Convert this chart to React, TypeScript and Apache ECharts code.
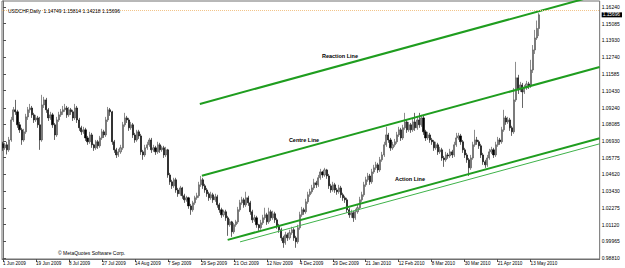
import React, { useEffect, useRef } from "react";
import * as echarts from "echarts";

const titleText = "USDCHF,Daily  1.14749 1.15814 1.14218 1.15696";
const copyrightText = "© MetaQuotes Software Corp.";

// x-axis tick labels, one every 16 daily bars
const tickLabels = [
  "1 Jun 2009", "19 Jun 2009", "8 Jul 2009", "27 Jul 2009", "14 Aug 2009",
  "7 Sep 2009", "29 Sep 2009", "21 Oct 2009", "12 Nov 2009", "4 Dec 2009",
  "29 Dec 2009", "21 Jan 2010", "12 Feb 2010", "8 Mar 2010", "30 Mar 2010",
  "21 Apr 2010", "13 May 2010",
];
const barsPerLabel = 16;
const slotCount = 290;

// price-axis labels
const priceTicks = [
  0.9881, 0.99965, 1.0112, 1.02275, 1.0343, 1.0462, 1.05775, 1.0693,
  1.08085, 1.0924, 1.1043, 1.11585, 1.1274, 1.1393, 1.15085, 1.1624,
];
const lastPrice = 1.15696;

// daily bars: [open, close, low, high]
const ohlc = [
  [1.0674,1.0646,1.0625,1.0688],[1.0646,1.0667,1.0632,1.0681],[1.0667,1.0632,1.0600,1.0688],[1.0632,1.0701,1.0618,1.0722],
  [1.0701,1.0840,1.0688,1.0861],[1.0840,1.0910,1.0826,1.0930],[1.0910,1.0896,1.0875,1.0979],[1.0896,1.0806,1.0785,1.0910],
  [1.0806,1.0771,1.0750,1.0826],[1.0771,1.0701,1.0667,1.0785],[1.0701,1.0757,1.0688,1.0778],[1.0757,1.0861,1.0743,1.0882],
  [1.0861,1.0910,1.0840,1.0930],[1.0910,1.0923,1.0889,1.0951],[1.0923,1.0875,1.0854,1.0937],[1.0875,1.0840,1.0819,1.0889],
  [1.0840,1.0854,1.0826,1.0875],[1.0854,1.0806,1.0785,1.0868],[1.0806,1.0701,1.0632,1.0861],[1.0701,1.0944,1.0688,1.1014],
  [1.0944,1.0979,1.0923,1.1000],[1.0979,1.0910,1.0889,1.0993],[1.0910,1.0854,1.0833,1.0923],[1.0854,1.0875,1.0840,1.0896],
  [1.0875,1.0806,1.0785,1.0889],[1.0806,1.0736,1.0701,1.0819],[1.0736,1.0840,1.0722,1.0861],[1.0840,1.0875,1.0826,1.0896],
  [1.0875,1.0896,1.0861,1.0916],[1.0896,1.0910,1.0875,1.0937],[1.0910,1.0923,1.0896,1.0951],[1.0923,1.0875,1.0854,1.0937],
  [1.0875,1.0910,1.0861,1.0930],[1.0910,1.0896,1.0875,1.0923],[1.0896,1.0854,1.0833,1.0910],[1.0854,1.0923,1.0840,1.0951],
  [1.0923,1.0840,1.0819,1.0937],[1.0840,1.0785,1.0764,1.0854],[1.0785,1.0757,1.0736,1.0799],[1.0757,1.0771,1.0743,1.0792],
  [1.0771,1.0715,1.0694,1.0785],[1.0715,1.0688,1.0667,1.0729],[1.0688,1.0736,1.0674,1.0757],[1.0736,1.0667,1.0646,1.0750],
  [1.0667,1.0646,1.0625,1.0674],[1.0646,1.0688,1.0632,1.0701],[1.0688,1.0660,1.0639,1.0701],[1.0660,1.0715,1.0646,1.0729],
  [1.0715,1.0757,1.0701,1.0778],[1.0757,1.0736,1.0715,1.0771],[1.0736,1.0840,1.0722,1.0861],[1.0840,1.0910,1.0826,1.0930],
  [1.0910,1.0896,1.0868,1.0923],[1.0896,1.0688,1.0667,1.0903],[1.0688,1.0632,1.0611,1.0701],[1.0632,1.0597,1.0576,1.0646],
  [1.0597,1.0618,1.0583,1.0639],[1.0618,1.0646,1.0604,1.0667],[1.0646,1.0806,1.0632,1.0826],[1.0806,1.0854,1.0792,1.0889],
  [1.0854,1.0840,1.0819,1.0868],[1.0840,1.0785,1.0764,1.0854],[1.0785,1.0806,1.0771,1.0826],[1.0806,1.0736,1.0715,1.0819],
  [1.0736,1.0701,1.0681,1.0750],[1.0701,1.0757,1.0688,1.0771],[1.0757,1.0729,1.0708,1.0771],[1.0729,1.0618,1.0597,1.0743],
  [1.0618,1.0597,1.0563,1.0632],[1.0597,1.0646,1.0583,1.0667],[1.0646,1.0667,1.0632,1.0688],[1.0667,1.0701,1.0653,1.0715],
  [1.0701,1.0632,1.0611,1.0715],[1.0632,1.0646,1.0618,1.0667],[1.0646,1.0618,1.0597,1.0660],[1.0618,1.0667,1.0604,1.0688],
  [1.0667,1.0632,1.0611,1.0681],[1.0632,1.0646,1.0618,1.0660],[1.0646,1.0597,1.0576,1.0660],[1.0597,1.0632,1.0583,1.0653],
  [1.0632,1.0458,1.0438,1.0639],[1.0458,1.0410,1.0389,1.0472],[1.0410,1.0382,1.0361,1.0424],[1.0382,1.0424,1.0368,1.0438],
  [1.0424,1.0354,1.0334,1.0438],[1.0354,1.0327,1.0306,1.0368],[1.0327,1.0368,1.0313,1.0382],[1.0368,1.0313,1.0292,1.0375],
  [1.0313,1.0285,1.0264,1.0327],[1.0285,1.0299,1.0271,1.0313],[1.0299,1.0243,1.0223,1.0306],[1.0243,1.0216,1.0181,1.0257],
  [1.0216,1.0264,1.0202,1.0278],[1.0264,1.0299,1.0250,1.0313],[1.0299,1.0313,1.0285,1.0334],[1.0313,1.0389,1.0299,1.0410],
  [1.0389,1.0424,1.0375,1.0451],[1.0424,1.0382,1.0361,1.0438],[1.0382,1.0354,1.0334,1.0396],[1.0354,1.0327,1.0306,1.0368],
  [1.0327,1.0299,1.0278,1.0341],[1.0299,1.0320,1.0285,1.0341],[1.0320,1.0285,1.0264,1.0334],[1.0285,1.0306,1.0271,1.0327],
  [1.0306,1.0250,1.0230,1.0320],[1.0250,1.0216,1.0195,1.0264],[1.0216,1.0181,1.0160,1.0230],[1.0181,1.0202,1.0167,1.0216],
  [1.0202,1.0160,1.0139,1.0216],[1.0160,1.0112,1.0035,1.0174],[1.0112,1.0132,1.0098,1.0153],[1.0132,1.0063,1.0028,1.0139],
  [1.0063,1.0112,1.0049,1.0125],[1.0112,1.0132,1.0098,1.0146],[1.0132,1.0216,1.0118,1.0236],[1.0216,1.0264,1.0202,1.0285],
  [1.0264,1.0285,1.0250,1.0306],[1.0285,1.0250,1.0230,1.0299],[1.0250,1.0299,1.0236,1.0341],[1.0299,1.0264,1.0243,1.0313],
  [1.0264,1.0202,1.0181,1.0278],[1.0202,1.0146,1.0125,1.0216],[1.0146,1.0160,1.0132,1.0181],[1.0160,1.0112,1.0091,1.0174],
  [1.0112,1.0091,1.0070,1.0118],[1.0091,1.0125,1.0077,1.0146],[1.0125,1.0160,1.0111,1.0181],[1.0160,1.0181,1.0146,1.0230],
  [1.0181,1.0132,1.0111,1.0195],[1.0132,1.0202,1.0118,1.0230],[1.0202,1.0160,1.0139,1.0216],[1.0160,1.0188,1.0146,1.0209],
  [1.0188,1.0146,1.0125,1.0202],[1.0146,1.0105,1.0084,1.0160],[1.0105,1.0077,1.0056,1.0118],[1.0077,1.0021,1.0000,1.0091],
  [1.0021,0.9987,0.9952,1.0035],[0.9987,1.0042,0.9973,1.0063],[1.0042,1.0021,1.0000,1.0056],[1.0021,1.0056,1.0007,1.0077],
  [1.0056,1.0077,1.0042,1.0098],[1.0077,1.0021,1.0000,1.0091],[1.0021,0.9994,0.9952,1.0035],[0.9994,1.0091,0.9980,1.0112],
  [1.0091,1.0181,1.0077,1.0202],[1.0181,1.0216,1.0167,1.0236],[1.0216,1.0202,1.0181,1.0230],[1.0202,1.0271,1.0188,1.0292],
  [1.0271,1.0320,1.0257,1.0341],[1.0320,1.0341,1.0306,1.0361],[1.0341,1.0368,1.0327,1.0389],[1.0368,1.0403,1.0354,1.0431],
  [1.0403,1.0389,1.0368,1.0417],[1.0389,1.0438,1.0375,1.0458],[1.0438,1.0479,1.0424,1.0500],[1.0479,1.0458,1.0438,1.0486],
  [1.0458,1.0493,1.0445,1.0507],[1.0493,1.0451,1.0431,1.0500],[1.0451,1.0382,1.0361,1.0465],[1.0382,1.0354,1.0334,1.0396],
  [1.0354,1.0389,1.0341,1.0410],[1.0389,1.0354,1.0334,1.0403],[1.0354,1.0341,1.0320,1.0368],[1.0341,1.0368,1.0327,1.0389],
  [1.0368,1.0320,1.0299,1.0382],[1.0320,1.0299,1.0278,1.0334],[1.0299,1.0285,1.0264,1.0313],[1.0285,1.0216,1.0195,1.0299],
  [1.0216,1.0181,1.0160,1.0230],[1.0181,1.0195,1.0160,1.0216],[1.0195,1.0160,1.0132,1.0209],[1.0160,1.0202,1.0146,1.0223],
  [1.0202,1.0230,1.0188,1.0250],[1.0230,1.0285,1.0216,1.0306],[1.0285,1.0320,1.0271,1.0341],[1.0320,1.0389,1.0306,1.0410],
  [1.0389,1.0424,1.0375,1.0445],[1.0424,1.0451,1.0410,1.0472],[1.0451,1.0410,1.0389,1.0465],[1.0410,1.0479,1.0396,1.0500],
  [1.0479,1.0507,1.0465,1.0528],[1.0507,1.0528,1.0493,1.0549],[1.0528,1.0493,1.0472,1.0542],[1.0493,1.0563,1.0479,1.0583],
  [1.0563,1.0597,1.0549,1.0618],[1.0597,1.0667,1.0583,1.0688],[1.0667,1.0736,1.0653,1.0792],[1.0736,1.0701,1.0681,1.0750],
  [1.0701,1.0646,1.0625,1.0715],[1.0646,1.0667,1.0632,1.0688],[1.0667,1.0688,1.0653,1.0708],[1.0688,1.0736,1.0674,1.0757],
  [1.0736,1.0771,1.0722,1.0792],[1.0771,1.0715,1.0694,1.0785],[1.0715,1.0785,1.0701,1.0806],[1.0785,1.0826,1.0771,1.0889],
  [1.0826,1.0771,1.0750,1.0840],[1.0771,1.0806,1.0757,1.0826],[1.0806,1.0771,1.0750,1.0819],[1.0771,1.0826,1.0757,1.0847],
  [1.0826,1.0785,1.0764,1.0889],[1.0785,1.0840,1.0771,1.0861],[1.0840,1.0806,1.0785,1.0889],[1.0806,1.0854,1.0792,1.0875],
  [1.0854,1.0757,1.0736,1.0868],[1.0757,1.0715,1.0694,1.0771],[1.0715,1.0736,1.0701,1.0757],[1.0736,1.0701,1.0681,1.0750],
  [1.0701,1.0688,1.0667,1.0715],[1.0688,1.0646,1.0625,1.0701],[1.0646,1.0667,1.0632,1.0688],[1.0667,1.0618,1.0597,1.0681],
  [1.0618,1.0632,1.0604,1.0653],[1.0632,1.0576,1.0556,1.0646],[1.0576,1.0563,1.0514,1.0590],[1.0563,1.0597,1.0549,1.0618],
  [1.0597,1.0590,1.0570,1.0611],[1.0590,1.0618,1.0576,1.0639],[1.0618,1.0597,1.0576,1.0632],[1.0597,1.0667,1.0583,1.0688],
  [1.0667,1.0715,1.0653,1.0750],[1.0715,1.0729,1.0701,1.0750],[1.0729,1.0688,1.0667,1.0743],[1.0688,1.0632,1.0611,1.0701],
  [1.0632,1.0597,1.0576,1.0646],[1.0597,1.0563,1.0542,1.0611],[1.0563,1.0507,1.0451,1.0576],[1.0507,1.0576,1.0493,1.0597],
  [1.0576,1.0667,1.0563,1.0688],[1.0667,1.0701,1.0653,1.0771],[1.0701,1.0688,1.0667,1.0722],[1.0688,1.0660,1.0639,1.0701],
  [1.0660,1.0597,1.0576,1.0674],[1.0597,1.0549,1.0528,1.0611],[1.0549,1.0528,1.0507,1.0563],[1.0528,1.0576,1.0514,1.0597],
  [1.0576,1.0618,1.0563,1.0639],[1.0618,1.0632,1.0604,1.0653],[1.0632,1.0597,1.0576,1.0646],[1.0597,1.0667,1.0583,1.0688],
  [1.0667,1.0701,1.0653,1.0722],[1.0701,1.0688,1.0667,1.0715],[1.0688,1.0771,1.0674,1.0792],[1.0771,1.0854,1.0757,1.0910],
  [1.0854,1.0826,1.0806,1.0868],[1.0826,1.0840,1.0812,1.0861],[1.0840,1.0785,1.0764,1.0854],[1.0785,1.0757,1.0729,1.0799],
  [1.0757,1.0979,1.0743,1.1062],[1.0979,1.1132,1.0965,1.1243],[1.1132,1.1048,1.1020,1.1153],[1.1048,1.1083,1.1034,1.1104],
  [1.1083,1.1034,1.0923,1.1097],[1.1034,1.1062,1.1020,1.1083],[1.1062,1.1090,1.1048,1.1111],[1.1090,1.1076,1.1055,1.1104],
  [1.1076,1.1187,1.1062,1.1257],[1.1187,1.1326,1.1166,1.1360],[1.1326,1.1409,1.1298,1.1465],[1.1409,1.1475,1.1395,1.1530],
  [1.14749,1.15696,1.14218,1.15814],
];

// hand-drawn channel lines: [bar index, price] end points
const reactionLine = [[95.5, 1.0951], [289.5, 1.1710]];
const centreLine = [[96.5, 1.0452], [289.5, 1.1207]];
const actionLine = [[109, 1.0007], [289.5, 1.0713]];
const actionLineThin = [[115, 0.9993], [289.5, 1.0674]];

const FONT = "Liberation Sans";

export default function App() {
  const ref = useRef<HTMLDivElement>(null);
  useEffect(() => {
    if (!ref.current) return;
    const chart = echarts.init(ref.current, null, { renderer: "svg" });
    const categories = Array.from({ length: slotCount }, (_, i) => String(i));
    const showTick = (i: number) => i % barsPerLabel === 0 && i / barsPerLabel < tickLabels.length;
    const labelValues = [...priceTicks, lastPrice].sort((a, b) => a - b);
    const green = "#1f9d1f";
    chart.setOption({
      animation: false,
      backgroundColor: "#ffffff",
      title: {
        text: titleText,
        left: 3,
        top: 3,
        textStyle: { fontFamily: FONT, fontSize: 5, fontWeight: "normal", color: "#000" },
      },
      grid: {
        left: 2, right: 19, top: 1, bottom: 9,
        show: true, borderColor: "#707070", borderWidth: 1, backgroundColor: "transparent",
      },
      xAxis: [
        {
          type: "category",
          data: categories,
          boundaryGap: true,
          axisLine: { show: true, lineStyle: { color: "#707070", width: 1 } },
          axisTick: {
            show: true, interval: (i: number) => showTick(i), alignWithLabel: true,
            length: 3, lineStyle: { color: "#505050" },
          },
          axisLabel: {
            interval: (i: number) => showTick(i),
            formatter: (_v: string, i: number) => tickLabels[i / barsPerLabel] ?? "",
            align: "left", margin: 2, fontSize: 4.6, fontFamily: FONT, color: "#000",
          },
          splitLine: { show: false },
        },
        { type: "value", min: -0.5, max: slotCount - 0.5, show: false },
      ],
      yAxis: {
        type: "value",
        position: "right",
        min: 0.98741,
        max: 1.16657,
        scale: true,
        axisLine: { show: true, lineStyle: { color: "#707070" } },
        axisTick: { show: true, length: 3, customValues: priceTicks, lineStyle: { color: "#505050" } },
        axisLabel: {
          customValues: labelValues,
          formatter: (v: number) =>
            Math.abs(v - lastPrice) < 1e-9 ? `{hl|${v.toFixed(5)}}` : v.toFixed(5),
          margin: 2, fontSize: 5, fontFamily: FONT, color: "#000",
          rich: {
            hl: {
              backgroundColor: "#000", color: "#fff", fontSize: 4.8, fontFamily: FONT,
              padding: [0, 2, 0, 1], lineHeight: 5,
            },
          },
        },
        splitLine: { show: false },
      },
      series: [
        {
          type: "candlestick",
          data: ohlc,
          barWidth: 1.6,
          itemStyle: {
            color: "#a8a8a8", color0: "#000000",
            borderColor: "#404040", borderColor0: "#000000", borderWidth: 0.6,
          },
          markLine: {
            silent: true,
            symbol: "none",
            data: [{ yAxis: lastPrice }],
            lineStyle: { color: "#f2c48a", type: "dotted", width: 1 },
            label: { show: false },
          },
        },
        {
          type: "line", xAxisIndex: 1, data: reactionLine, showSymbol: false, clip: true,
          lineStyle: { color: green, width: 2 },
        },
        {
          type: "line", xAxisIndex: 1, data: centreLine, showSymbol: false, clip: true,
          lineStyle: { color: green, width: 2 },
        },
        {
          type: "line", xAxisIndex: 1, data: actionLine, showSymbol: false, clip: true,
          lineStyle: { color: green, width: 2 },
        },
        {
          type: "line", xAxisIndex: 1, data: actionLineThin, showSymbol: false, clip: true,
          lineStyle: { color: "#3fb34a", width: 1 },
        },
      ],
      graphic: [
        { type: "text", x: 340, y: 56, style: { text: "Reaction Line", fontSize: 5.5, fontWeight: "bold", fontFamily: FONT, fill: "#000", align: "center", verticalAlign: "middle" } },
        { type: "text", x: 304, y: 140, style: { text: "Centre Line", fontSize: 5.5, fontWeight: "bold", fontFamily: FONT, fill: "#000", align: "center", verticalAlign: "middle" } },
        { type: "text", x: 410, y: 179, style: { text: "Action Line", fontSize: 5.5, fontWeight: "bold", fontFamily: FONT, fill: "#000", align: "center", verticalAlign: "middle" } },
        { type: "text", x: 58, y: 253, style: { text: copyrightText, fontSize: 5, fontFamily: FONT, fill: "#000", align: "left", verticalAlign: "middle" } },
      ],
    });
    return () => chart.dispose();
  }, []);
  return (
    <div
      ref={ref}
      style={{ position: "fixed", left: 0, top: 0, width: 625, height: 268 }}
    />
  );
}
